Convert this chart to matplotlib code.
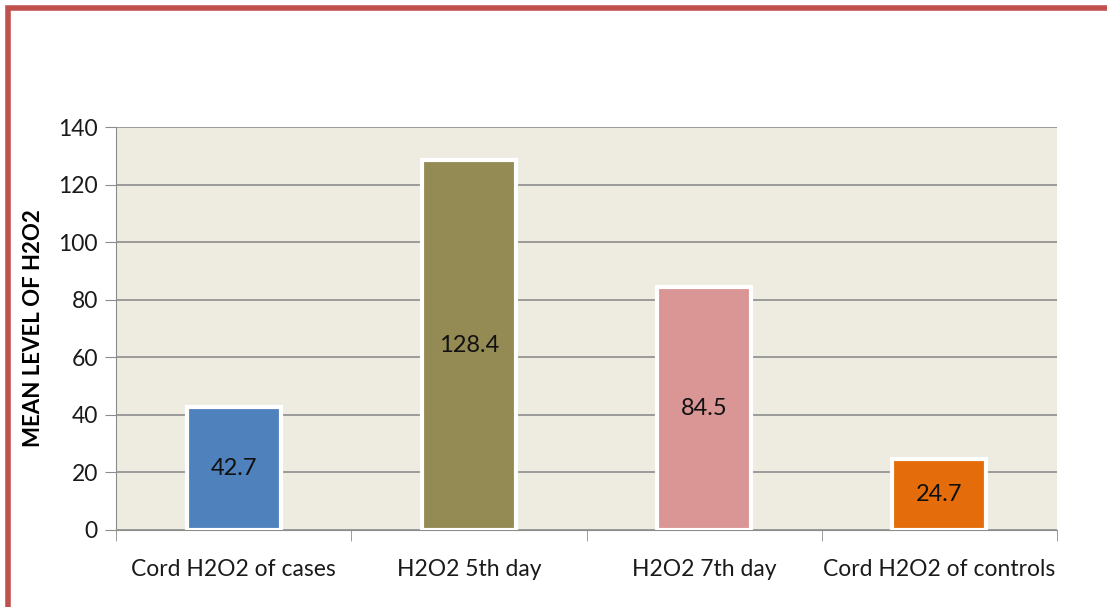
import matplotlib.pyplot as plt
from matplotlib.patches import Rectangle
import numpy as np

categories = ["Cord H2O2 of cases", "H2O2 5th day", "H2O2 7th day", "Cord H2O2 of controls"]
values = [42.7, 128.4, 84.5, 24.7]
colors = ["#4F81BD", "#948A54", "#D99694", "#E46C0A"]

plt.rcParams['font.family'] = ['Lato', 'DejaVu Sans']

fig = plt.figure(figsize=(11.07, 6.07), dpi=100)
ax = fig.add_axes([116 / 1107, 1 - 530 / 607, (1057 - 116) / 1107, (530 - 127) / 607])
ax.set_facecolor("#EEECE1")

x = np.arange(len(categories))
bars = ax.bar(x, values, width=0.40, color=colors, edgecolor="white", linewidth=3, zorder=3)
for b, v in zip(bars, values):
    ax.text(b.get_x() + b.get_width() / 2, v / 2, f"{v}", ha="center", va="center",
            fontsize=17, color="#111111", zorder=4)

ax.set_xlim(-0.5, len(categories) - 0.5)
ax.set_ylim(0, 140)
ax.set_yticks(range(0, 141, 20))
ax.yaxis.grid(True, color="#8c8c8c", linewidth=1.2, zorder=0)
ax.set_axisbelow(True)

ax.set_xticks(x)
ax.set_xticklabels(categories, fontsize=16.5, color="#1a1a1a")
ax.set_xticks(np.arange(-0.5, len(categories)), minor=True)
ax.tick_params(axis="x", which="major", length=0, pad=21)
ax.tick_params(axis="x", which="minor", length=8, color="#8c8c8c", direction="out")
ax.tick_params(axis="y", length=8, color="#8c8c8c", labelsize=16.5, labelcolor="#1a1a1a", pad=5)

for s in ["top", "right"]:
    ax.spines[s].set_visible(False)
ax.spines["left"].set_color("#8c8c8c")
ax.spines["bottom"].set_color("#8c8c8c")

ax.set_ylabel("MEAN LEVEL OF H2O2", fontsize=16, fontweight="bold", labelpad=10)

# red frame around the chart area
fig.patches.append(Rectangle((8 / 1107, -0.05), 1.2, 1 - 8 / 607 + 0.05, transform=fig.transFigure,
                             fill=False, edgecolor="#C0504D", linewidth=4, zorder=10))

fig.savefig("out.png", dpi=100)
plt.close(fig)
